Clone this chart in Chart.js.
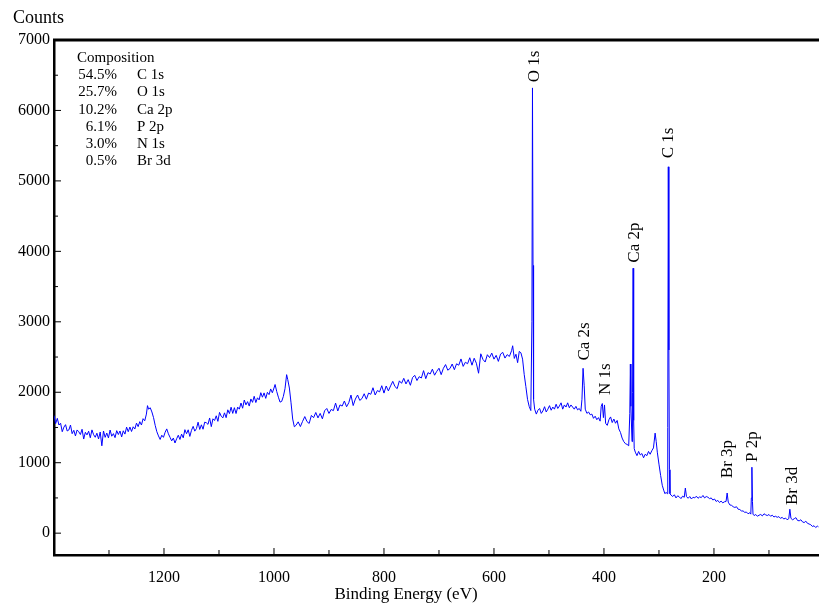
<!DOCTYPE html>
<html>
<head>
<meta charset="utf-8">
<script src="https://cdn.jsdelivr.net/npm/chart.js@4/dist/chart.umd.min.js"></script>
<style>
    body { margin: 0; background: #fff; }
    #wrap { width: 819px; height: 604px; }
</style>
</head>
<body>
<div id="wrap"><canvas id="xps"></canvas></div>
<script>
// survey spectrum: [binding energy (eV), counts]
const spectrum = [
    [1400, 1670], [1397, 1555], [1394, 1630], [1391, 1535], [1388, 1560], [1385, 1440], [1382, 1505], [1379, 1540],
    [1376, 1450], [1373, 1465], [1370, 1535], [1367, 1412], [1364, 1460], [1361, 1380], [1358, 1465], [1355, 1440],
    [1352, 1400], [1349, 1475], [1346, 1336], [1343, 1432], [1340, 1395], [1337, 1447], [1334, 1354], [1331, 1466],
    [1328, 1398], [1325, 1361], [1322, 1419], [1319, 1337], [1316, 1436], [1313, 1240], [1310, 1450], [1307, 1360],
    [1304, 1421], [1301, 1352], [1298, 1464], [1295, 1376], [1292, 1413], [1289, 1356], [1286, 1455], [1283, 1400],
    [1280, 1450], [1277, 1366], [1274, 1453], [1271, 1406], [1268, 1505], [1265, 1440], [1262, 1506], [1259, 1443],
    [1256, 1510], [1253, 1478], [1250, 1562], [1247, 1512], [1244, 1583], [1241, 1535], [1238, 1625], [1235, 1595],
    [1232, 1690], [1230, 1810], [1228, 1760], [1225, 1780], [1222, 1720], [1219, 1640], [1216, 1530], [1213, 1440],
    [1210, 1380], [1207, 1330], [1204, 1390], [1201, 1360], [1198, 1430], [1195, 1480], [1192, 1410], [1189, 1360],
    [1186, 1310], [1183, 1350], [1180, 1280], [1177, 1340], [1174, 1390], [1171, 1330], [1168, 1406], [1165, 1353],
    [1162, 1469], [1159, 1411], [1156, 1467], [1153, 1373], [1150, 1460], [1147, 1516], [1144, 1448], [1141, 1484],
    [1138, 1575], [1135, 1472], [1132, 1538], [1129, 1475], [1126, 1576], [1123, 1567], [1120, 1544], [1117, 1635],
    [1114, 1512], [1111, 1623], [1108, 1599], [1105, 1666], [1102, 1587], [1099, 1714], [1096, 1660], [1093, 1636],
    [1090, 1708], [1087, 1639], [1084, 1751], [1081, 1697], [1078, 1788], [1075, 1700], [1072, 1781], [1069, 1698],
    [1066, 1789], [1063, 1760], [1060, 1847], [1057, 1773], [1054, 1890], [1051, 1821], [1048, 1867], [1045, 1804],
    [1042, 1905], [1039, 1857], [1036, 1943], [1033, 1854], [1030, 1921], [1027, 1892], [1024, 1994], [1021, 1930],
    [1018, 1991], [1015, 1913], [1012, 1999], [1009, 1966], [1006, 2047], [1003, 1993], [1000, 2060], [998, 2110],
    [995, 2010], [992, 1930], [989, 1860], [986, 1870], [983, 1940], [980, 2050], [977, 2250], [975, 2180],
    [972, 2060], [969, 1850], [966, 1620], [963, 1510], [960, 1530], [956, 1580], [952, 1513], [948, 1587],
    [944, 1655], [940, 1584], [936, 1557], [932, 1671], [928, 1639], [924, 1713], [920, 1636], [916, 1700],
    [912, 1623], [908, 1737], [904, 1770], [900, 1699], [896, 1756], [892, 1739], [888, 1846], [884, 1734],
    [880, 1821], [876, 1804], [872, 1876], [868, 1794], [864, 1851], [860, 1960], [856, 1811], [852, 1904],
    [848, 1961], [844, 1884], [840, 1911], [836, 1979], [832, 1901], [828, 1989], [824, 1971], [820, 2064],
    [816, 1961], [812, 2024], [808, 2006], [804, 2093], [800, 1988], [796, 2089], [792, 2019], [788, 2090],
    [784, 2155], [780, 2081], [776, 2051], [772, 2162], [768, 2127], [764, 2198], [760, 2118], [756, 2179],
    [752, 2099], [748, 2210], [744, 2240], [740, 2166], [736, 2221], [732, 2202], [728, 2307], [724, 2193],
    [720, 2278], [716, 2259], [712, 2328], [708, 2242], [704, 2297], [700, 2341], [696, 2250], [692, 2339],
    [688, 2393], [684, 2313], [680, 2337], [676, 2401], [672, 2320], [668, 2404], [664, 2384], [660, 2473],
    [656, 2367], [652, 2426], [648, 2405], [644, 2490], [640, 2384], [636, 2483], [632, 2412], [628, 2270],
    [624, 2546], [620, 2465], [616, 2429], [612, 2533], [608, 2492], [604, 2556], [600, 2470], [596, 2524],
    [592, 2438], [588, 2542], [584, 2566], [580, 2485], [576, 2534], [572, 2508], [568, 2590], [566, 2660],
    [563, 2480], [560, 2540], [557, 2420], [554, 2580], [551, 2560], [548, 2470], [545, 2250], [542, 2080],
    [539, 1900], [536, 1800], [533, 1740], [531, 3000], [530, 6320], [529, 3800], [528, 1900], [526, 1760],
    [523, 1690], [520, 1745], [517, 1770], [514, 1700], [511, 1735], [508, 1795], [505, 1720], [502, 1760],
    [499, 1810], [496, 1745], [493, 1790], [490, 1760], [487, 1830], [484, 1770], [481, 1805], [478, 1850],
    [475, 1760], [472, 1820], [469, 1790], [466, 1850], [463, 1780], [460, 1820], [457, 1790], [454, 1760],
    [451, 1800], [448, 1750], [445, 1770], [442, 1730], [440, 1900], [438, 2340], [436, 2100], [434, 1760],
    [431, 1700], [428, 1720], [425, 1680], [422, 1690], [419, 1630], [416, 1660], [413, 1610], [410, 1640],
    [407, 1590], [405, 1800], [403, 1840], [401, 1640], [399, 1820], [397, 1560], [394, 1530], [391, 1610],
    [388, 1650], [385, 1570], [382, 1620], [379, 1560], [376, 1600], [373, 1480], [370, 1430], [367, 1350],
    [364, 1300], [361, 1270], [358, 1260], [355, 1240], [353, 1700], [352, 2400], [351, 1800], [349, 1300],
    [348, 2000], [347, 3760], [346, 1600], [345, 1200], [343, 1150], [340, 1100], [337, 1160], [334, 1110],
    [331, 1130], [328, 1070], [325, 1120], [322, 1100], [319, 1160], [316, 1120], [313, 1170], [310, 1210],
    [307, 1420], [305, 1300], [303, 1150], [300, 980], [297, 820], [294, 680], [291, 600], [289, 560],
    [287, 580], [285, 560], [284, 1500], [283, 5200], [282, 2600], [281, 900], [280, 560], [278, 540],
    [275, 520], [272, 545], [269, 500], [266, 530], [263, 515], [260, 490], [257, 525], [254, 510],
    [252, 640], [250, 520], [247, 495], [244, 520], [241, 485], [238, 510], [235, 500], [232, 525],
    [229, 495], [226, 515], [223, 505], [220, 535], [217, 500], [214, 520], [211, 510], [208, 490],
    [205, 500], [202, 470], [199, 485], [196, 450], [193, 465], [190, 435], [187, 455], [184, 430],
    [181, 445], [178, 450], [176, 570], [174, 440], [171, 400], [168, 395], [165, 375], [162, 365],
    [159, 375], [156, 340], [153, 335], [150, 315], [147, 315], [144, 295], [141, 300], [138, 275],
    [135, 290], [133, 270], [132, 500], [131, 936], [130, 450], [129, 270], [127, 250], [124, 265],
    [121, 240], [118, 255], [115, 265], [112, 245], [109, 275], [106, 260], [103, 250], [100, 265],
    [97, 240], [94, 255], [91, 230], [88, 240], [85, 225], [82, 235], [79, 210], [76, 225],
    [73, 200], [70, 215], [67, 190], [64, 205], [62, 340], [60, 210], [57, 190], [54, 205],
    [51, 220], [48, 180], [45, 175], [42, 190], [39, 160], [36, 150], [33, 170], [30, 140],
    [27, 130], [24, 120], [21, 95], [18, 105], [15, 80], [12, 100], [10, 90]
];

// peak labels: name, energy of the label, counts at the foot of the label
const peakNames = ['O 1s', 'C 1s', 'Ca 2p', 'Ca 2s', 'N 1s', 'Br 3p', 'P 2p', 'Br 3d'];
const peakEnergy = [526, 282, 345, 436, 398, 176, 129, 58];
const peakLabelAt = [6400, 5320, 3840, 2450, 1960, 780, 1010, 400];

const compPercent = ['54.5%', '25.7%', '10.2%', '6.1%', '3.0%', '0.5%'];
const compName = ['C 1s', 'O 1s', 'Ca 2p', 'P 2p', 'N 1s', 'Br 3d'];

const xMajor = [1200, 1000, 800, 600, 400, 200];
const xMinor = [1300, 1100, 900, 700, 500, 300, 100];
const yMajor = [0, 1000, 2000, 3000, 4000, 5000, 6000, 7000];
const yMinor = [500, 1500, 2500, 3500, 4500, 5500, 6500];

const serif = 'Liberation Serif';

const extras = {
    id: 'extras',
    afterDraw(chart) {
        const ctx = chart.ctx;
        const a = chart.chartArea;
        const xs = chart.scales.x;
        const ys = chart.scales.y;
        ctx.save();
        ctx.strokeStyle = '#000';

        // top frame line
        ctx.lineWidth = 3;
        ctx.beginPath();
        ctx.moveTo(a.left - 1, a.top);
        ctx.lineTo(a.right, a.top);
        ctx.stroke();

        // ticks point into the plot
        ctx.lineWidth = 1;
        ctx.beginPath();
        yMajor.forEach(v => { const p = ys.getPixelForValue(v); ctx.moveTo(a.left, p); ctx.lineTo(a.left + 7, p); });
        yMinor.forEach(v => { const p = ys.getPixelForValue(v); ctx.moveTo(a.left, p); ctx.lineTo(a.left + 4, p); });
        xMajor.forEach(v => { const p = xs.getPixelForValue(v); ctx.moveTo(p, a.bottom); ctx.lineTo(p, a.bottom - 7); });
        xMinor.forEach(v => { const p = xs.getPixelForValue(v); ctx.moveTo(p, a.bottom); ctx.lineTo(p, a.bottom - 5); });
        ctx.stroke();

        ctx.fillStyle = '#000';
        // axis titles
        ctx.font = '18px "' + serif + '"';
        ctx.textBaseline = 'middle';
        ctx.textAlign = 'left';
        ctx.fillText('Counts', 13, 18);
        ctx.font = '17px "' + serif + '"';
        ctx.textAlign = 'center';
        ctx.fillText('Binding Energy (eV)', 406, 595);

        // composition table
        ctx.font = '15px "' + serif + '"';
        ctx.textAlign = 'left';
        ctx.fillText('Composition', 77, 58);
        compPercent.forEach((t, i) => {
            const yy = 75 + i * 17.3;
            ctx.textAlign = 'right';
            ctx.fillText(t, 117, yy);
            ctx.textAlign = 'left';
            ctx.fillText(compName[i], 137, yy);
        });

        // rotated peak labels
        ctx.font = '17px "' + serif + '"';
        ctx.textAlign = 'left';
        ctx.textBaseline = 'middle';
        peakNames.forEach((n, i) => {
            ctx.save();
            ctx.translate(xs.getPixelForValue(peakEnergy[i]), ys.getPixelForValue(peakLabelAt[i]));
            ctx.rotate(-Math.PI / 2);
            ctx.fillText(n, 0, 0);
            ctx.restore();
        });
        ctx.restore();
    }
};

new Chart(document.getElementById('xps'), {
    type: 'line',
    data: {
        datasets: [{
            data: spectrum.map(p => ({ x: p[0], y: p[1] })),
            borderColor: '#0000ff',
            borderWidth: 1,
            pointRadius: 0,
            tension: 0
        }]
    },
    options: {
        responsive: true,
        maintainAspectRatio: false,
        animation: false,
        events: [],
        layout: { padding: { top: 40, right: 0, left: 0, bottom: 0 } },
        plugins: { legend: { display: false }, tooltip: { enabled: false } },
        scales: {
            x: {
                type: 'linear',
                reverse: true,
                min: 9,
                max: 1400,
                afterFit: s => { s.height = 49; },
                afterBuildTicks: s => { s.ticks = xMajor.map(v => ({ value: v })); },
                grid: { display: false, drawTicks: false },
                border: { color: '#000', width: 2.5 },
                ticks: {
                    color: '#000', padding: 13, maxRotation: 0,
                    font: { family: serif, size: 16 },
                    callback: v => String(v)
                }
            },
            y: {
                min: -310,
                max: 7000,
                afterFit: s => { s.width = 54; },
                afterBuildTicks: s => { s.ticks = yMajor.map(v => ({ value: v })); },
                grid: { display: false, drawTicks: false },
                border: { color: '#000', width: 2.5 },
                ticks: {
                    color: '#000', padding: 4,
                    font: { family: serif, size: 16 },
                    callback: v => String(v)
                }
            }
        }
    },
    plugins: [extras]
});
</script>
</body>
</html>
